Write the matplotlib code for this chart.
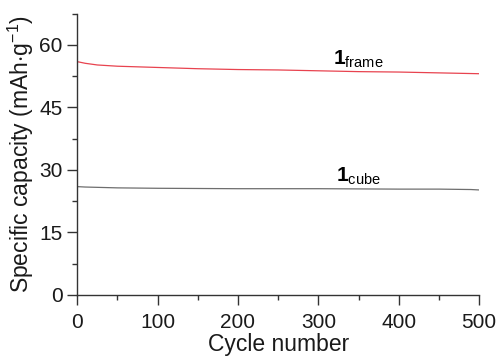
import matplotlib
matplotlib.use('Agg')
import matplotlib.pyplot as plt
from matplotlib.ticker import MultipleLocator

plt.rcParams['font.family'] = ['Liberation Sans', 'DejaVu Sans']
plt.rcParams['mathtext.fontset'] = 'custom'
plt.rcParams['mathtext.rm'] = 'Liberation Sans'
plt.rcParams['mathtext.it'] = 'Liberation Sans:italic'
plt.rcParams['mathtext.bf'] = 'Liberation Sans:bold'

# capacity vs cycle
cycles_frame = [0, 10, 25, 50, 100, 150, 200, 250, 300, 350, 400, 450, 500]
cap_frame = [56.0, 55.6, 55.2, 54.9, 54.6, 54.3, 54.1, 54.0, 53.8, 53.6, 53.5, 53.3, 53.1]

cycles_cube = [0, 10, 50, 100, 200, 300, 400, 450, 490, 500]
cap_cube = [26.0, 25.9, 25.7, 25.6, 25.5, 25.5, 25.4, 25.4, 25.3, 25.2]

xticks = [0, 100, 200, 300, 400, 500]
yticks = [0, 15, 30, 45, 60]

fig = plt.figure(figsize=(4.98, 3.61), dpi=100)
ax = fig.add_axes([0.155, 0.183, 0.807, 0.779])

ax.plot(cycles_frame, cap_frame, color='#e8434f', linewidth=0.9)
ax.plot(cycles_cube, cap_cube, color='#6e6e6e', linewidth=0.9)

ax.text(318, 55.2, r'$\mathbf{1}_{\mathrm{frame}}$', fontsize=15, ha='left', va='baseline')
ax.text(322, 27.1, r'$\mathbf{1}_{\mathrm{cube}}$', fontsize=15, ha='left', va='baseline')

ax.set_xlim(0, 500)
ax.set_ylim(0, 67.5)
ax.set_xticks(xticks)
ax.set_yticks(yticks)
ax.xaxis.set_minor_locator(MultipleLocator(50))
ax.yaxis.set_minor_locator(MultipleLocator(7.5))

for s in ['top', 'right']:
    ax.spines[s].set_visible(False)
for s in ['left', 'bottom']:
    ax.spines[s].set_color('#333333')
    ax.spines[s].set_linewidth(1.0)

ax.tick_params(which='major', direction='out', length=7, width=1.0, labelsize=15, colors='#333333', labelcolor='#1a1a1a')
ax.tick_params(which='minor', direction='out', length=3.5, width=1.0, colors='#333333')
ax.tick_params(axis='x', which='major', pad=6)

ax.set_xlabel('Cycle number', fontsize=16.5, color='#1a1a1a', labelpad=1)
ax.set_ylabel(r'Specific capacity (mAh$\cdot$g$^{-1}$)', fontsize=16.5, color='#1a1a1a', labelpad=2)

fig.savefig('out.png', dpi=100)
